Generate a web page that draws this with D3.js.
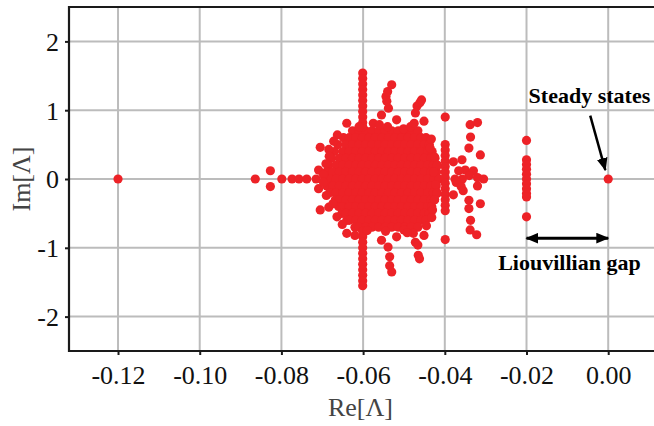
<!DOCTYPE html>
<html>
<head>
<meta charset="utf-8">
<script src="https://cdn.jsdelivr.net/npm/d3@7"></script>
<style>
  html, body { margin: 0; padding: 0; background: #fff; }
  svg { display: block; }
  .tick-label { font-family: "Liberation Serif", "Times New Roman", serif; font-size: 26px; fill: #111; }
  .axis-title { font-family: "Liberation Serif", "Times New Roman", serif; font-size: 26px; fill: #444; }
  .note { font-family: "Liberation Serif", "Times New Roman", serif; font-size: 22px; font-weight: bold; fill: #000; }
</style>
</head>
<body>
<svg id="chart" width="654" height="426"></svg>
<script>
// Liouvillian spectrum: eigenvalues Λ in the complex plane.

const xTicks = [-0.12, -0.10, -0.08, -0.06, -0.04, -0.02, 0.00];
const yTicks = [-2, -1, 0, 1, 2];

// isolated slow modes
const steadyStates = [[0.0, 0.0]];
const farMode = [[-0.12, 0.0]];

// first excited band at Re Λ ≈ -0.02 (sets the Liouvillian gap)
const gapBandRe = -0.0200;
const gapBandIm = [0.56, 0.28, 0.21, 0.14, 0.07, 0.00, -0.07, -0.14, -0.21, -0.26, -0.55];

// vertical branch through the bulk at Re Λ ≈ -0.06
const spikeRe = -0.0601;
const spikeIm = [1.54, 1.46, 1.38, 1.30, 1.22, 1.14, 1.06, 0.98, 0.90, 0.82, 0.76,
                 -0.76, -0.84, -0.92, -1.00, -1.08, -1.16, -1.24, -1.32, -1.40, -1.48, -1.55];

// band at Re Λ ≈ -0.04
const band04Re = -0.0399;
const band04Im = [0.90, 0.50, 0.42, 0.34, 0.26, 0.18, 0.10, 0.02, -0.06, -0.14, -0.22, -0.30, -0.38, -0.46, -0.88];

// dense bulk of the spectrum, row by row in Im Λ
const bulkIm = [0.70, 0.60, 0.50, 0.40, 0.30, 0.20, 0.10, 0.00, -0.10, -0.20, -0.30, -0.40, -0.50, -0.60, -0.70];
const bulkRe = [
  [-0.0626,-0.0610,-0.0594,-0.0578,-0.0562,-0.0546,-0.0530,-0.0514,-0.0498,-0.0482,-0.0466],
  [-0.0648,-0.0634,-0.0618,-0.0602,-0.0586,-0.0570,-0.0554,-0.0538,-0.0522,-0.0506,-0.0490,-0.0474,-0.0458,-0.0446],
  [-0.0662,-0.0642,-0.0626,-0.0610,-0.0594,-0.0578,-0.0562,-0.0546,-0.0530,-0.0514,-0.0498,-0.0482,-0.0466,-0.0450,-0.0438],
  [-0.0670,-0.0650,-0.0634,-0.0618,-0.0602,-0.0586,-0.0570,-0.0554,-0.0538,-0.0522,-0.0506,-0.0490,-0.0474,-0.0458,-0.0442,-0.0431],
  [-0.0677,-0.0658,-0.0642,-0.0626,-0.0610,-0.0594,-0.0578,-0.0562,-0.0546,-0.0530,-0.0514,-0.0498,-0.0482,-0.0466,-0.0450,-0.0434,-0.0424],
  [-0.0684,-0.0666,-0.0650,-0.0634,-0.0618,-0.0602,-0.0586,-0.0570,-0.0554,-0.0538,-0.0522,-0.0506,-0.0490,-0.0474,-0.0458,-0.0442,-0.0428,-0.0418],
  [-0.0690,-0.0674,-0.0658,-0.0642,-0.0626,-0.0610,-0.0594,-0.0578,-0.0562,-0.0546,-0.0530,-0.0514,-0.0498,-0.0482,-0.0466,-0.0450,-0.0434,-0.0420],
  [-0.0694,-0.0680,-0.0666,-0.0650,-0.0634,-0.0618,-0.0602,-0.0586,-0.0570,-0.0554,-0.0538,-0.0522,-0.0506,-0.0490,-0.0474,-0.0458,-0.0442,-0.0426,-0.0414],
  [-0.0689,-0.0674,-0.0658,-0.0642,-0.0626,-0.0610,-0.0594,-0.0578,-0.0562,-0.0546,-0.0530,-0.0514,-0.0498,-0.0482,-0.0466,-0.0450,-0.0434,-0.0421],
  [-0.0682,-0.0666,-0.0650,-0.0634,-0.0618,-0.0602,-0.0586,-0.0570,-0.0554,-0.0538,-0.0522,-0.0506,-0.0490,-0.0474,-0.0458,-0.0442,-0.0428,-0.0419],
  [-0.0668,-0.0658,-0.0642,-0.0626,-0.0610,-0.0594,-0.0578,-0.0562,-0.0546,-0.0530,-0.0514,-0.0498,-0.0482,-0.0466,-0.0450,-0.0434,-0.0425],
  [-0.0660,-0.0650,-0.0634,-0.0618,-0.0602,-0.0586,-0.0570,-0.0554,-0.0538,-0.0522,-0.0506,-0.0490,-0.0474,-0.0458,-0.0442,-0.0432],
  [-0.0652,-0.0642,-0.0626,-0.0610,-0.0594,-0.0578,-0.0562,-0.0546,-0.0530,-0.0514,-0.0498,-0.0482,-0.0466,-0.0450,-0.0439],
  [-0.0640,-0.0634,-0.0618,-0.0602,-0.0586,-0.0570,-0.0554,-0.0538,-0.0522,-0.0506,-0.0490,-0.0474,-0.0458,-0.0447],
  [-0.0620,-0.0610,-0.0594,-0.0578,-0.0562,-0.0546,-0.0530,-0.0514,-0.0498,-0.0482,-0.0466]
];

// scattered eigenvalues around the bulk
const outliers = [
  [-0.0864, 0.00], [-0.0827, 0.12], [-0.0827, -0.11], [-0.0799, 0.00], [-0.0774, 0.00],
  [-0.0757, 0.00], [-0.0738, 0.00], [-0.0715, 0.00], [-0.0709, 0.13], [-0.0709, -0.14],
  [-0.0705, 0.46], [-0.0684, 0.43], [-0.0705, -0.45], [-0.0684, -0.41],
  [-0.0640, 0.81], [-0.0575, 0.81], [-0.0560, 0.79], [-0.0518, 0.86], [-0.0501, 0.73],
  [-0.0484, 0.76], [-0.0475, 0.81], [-0.0451, 0.84],
  [-0.0555, 0.93], [-0.0538, 1.03], [-0.0542, 1.13], [-0.0544, 1.20], [-0.0540, 1.27], [-0.0530, 1.37],
  [-0.0472, 0.96], [-0.0468, 1.06], [-0.0461, 1.11], [-0.0457, 1.15],
  [-0.0640, -0.79], [-0.0620, -0.82], [-0.0555, -0.89], [-0.0539, -0.99], [-0.0535, -1.13],
  [-0.0535, -1.26], [-0.0530, -1.35], [-0.0518, -0.84], [-0.0500, -0.74], [-0.0477, -0.79],
  [-0.0472, -0.92], [-0.0466, -0.96], [-0.0465, -1.11], [-0.0462, -1.16], [-0.0451, -0.82],
  [-0.0436, 0.45], [-0.0425, 0.32], [-0.0419, 0.20], [-0.0419, -0.21], [-0.0425, -0.30], [-0.0430, -0.45],
  [-0.0663, 0.64], [-0.0672, 0.55], [-0.0683, 0.33], [-0.0691, 0.22], [-0.0697, 0.06],
  [-0.0697, -0.05], [-0.0690, -0.24], [-0.0674, -0.36], [-0.0664, -0.55], [-0.0651, -0.66],
  [-0.0610, 0.76], [-0.0540, 0.76], [-0.0590, -0.75], [-0.0545, -0.76], [-0.0492, -0.78],
  [-0.0433, 0.58], [-0.0427, 0.10], [-0.0422, -0.08], [-0.0432, -0.56], [-0.0445, -0.68],
  [-0.0338, 0.79], [-0.0320, 0.82], [-0.0337, 0.61], [-0.0341, 0.45], [-0.0313, 0.35],
  [-0.0358, 0.28], [-0.0379, 0.25], [-0.0350, 0.13], [-0.0366, 0.12], [-0.0330, 0.12],
  [-0.0305, 0.00], [-0.0320, 0.02], [-0.0340, 0.05], [-0.0357, 0.00], [-0.0375, 0.00],
  [-0.0372, -0.05], [-0.0360, -0.11], [-0.0320, -0.10], [-0.0355, -0.17], [-0.0379, -0.23],
  [-0.0341, -0.31], [-0.0313, -0.36], [-0.0341, -0.43], [-0.0337, -0.60], [-0.0338, -0.74],
  [-0.0322, -0.81]
];

const W = 654, H = 426;
const x = d3.scaleLinear().domain([-0.132, 0.0117]).range([69, 656]);
const y = d3.scaleLinear().domain([-2.5, 2.5]).range([351, 7]);

const svg = d3.select("#chart");
const red = "#ED2227";
const ink = "#1a1a1a";
const gridColor = "#bcbcbc";

// gridlines
const grid = svg.append("g");
grid.selectAll("line.gx").data(xTicks).join("line")
  .attr("x1", d => x(d)).attr("x2", d => x(d))
  .attr("y1", y.range()[0]).attr("y2", y.range()[1])
  .attr("stroke", gridColor).attr("stroke-width", 2);
grid.selectAll("line.gy").data(yTicks).join("line")
  .attr("x1", x.range()[0]).attr("x2", x.range()[1])
  .attr("y1", d => y(d)).attr("y2", d => y(d))
  .attr("stroke", gridColor).attr("stroke-width", 2);

// assemble every eigenvalue as [Re, Im]
const points = [];
farMode.forEach(p => points.push(p));
bulkIm.forEach((im, i) => bulkRe[i].forEach(re => points.push([re, im])));
spikeIm.forEach(im => points.push([spikeRe, im]));
band04Im.forEach(im => points.push([band04Re, im]));
outliers.forEach(p => points.push(p));
gapBandIm.forEach(im => points.push([gapBandRe, im]));
steadyStates.forEach(p => points.push(p));

svg.append("g").selectAll("circle").data(points).join("circle")
  .attr("cx", d => x(d[0])).attr("cy", d => y(d[1]))
  .attr("r", 4.6).attr("fill", red);

// axes
const xAxis = d3.axisBottom(x).tickValues(xTicks).tickSize(4).tickFormat(d => d.toFixed(2));
const yAxis = d3.axisLeft(y).tickValues(yTicks).tickSize(4).tickFormat(d => String(d));

const gx = svg.append("g").attr("transform", `translate(0,${y.range()[0]})`).call(xAxis);
gx.select(".domain").remove();
gx.selectAll(".tick line").attr("stroke", ink).attr("stroke-width", 2);
gx.selectAll(".tick text").attr("class", "tick-label").attr("dy", null).attr("y", 33);

const gy = svg.append("g").attr("transform", `translate(${x.range()[0]},0)`).call(yAxis);
gy.select(".domain").remove();
gy.selectAll(".tick line").attr("stroke", ink).attr("stroke-width", 2);
gy.selectAll(".tick text").attr("class", "tick-label").attr("x", -10).attr("dy", "0.34em");

// frame: left, bottom, top
const frame = svg.append("g").attr("stroke", ink).attr("stroke-width", 2.2).attr("fill", "none");
frame.append("line").attr("x1", x.range()[0]).attr("x2", x.range()[0]).attr("y1", y.range()[0] + 1).attr("y2", y.range()[1] - 1);
frame.append("line").attr("x1", x.range()[0] - 1).attr("x2", W).attr("y1", y.range()[0]).attr("y2", y.range()[0]);
frame.append("line").attr("x1", x.range()[0] - 1).attr("x2", W).attr("y1", y.range()[1]).attr("y2", y.range()[1]);

// axis titles
svg.append("text").attr("class", "axis-title")
  .attr("x", (x(-0.132) + x(0.0117)) / 2 - 2).attr("y", 416)
  .attr("text-anchor", "middle").text("Re[Λ]");
svg.append("text").attr("class", "axis-title")
  .attr("transform", `translate(30,${y(0)}) rotate(-90)`)
  .attr("text-anchor", "middle").text("Im[Λ]");

// annotations
const defs = svg.append("defs");
defs.append("marker").attr("id", "head").attr("viewBox", "0 0 12 10")
  .attr("refX", 11).attr("refY", 5).attr("markerUnits", "userSpaceOnUse")
  .attr("markerWidth", 13).attr("markerHeight", 11).attr("orient", "auto-start-reverse")
  .append("path").attr("d", "M0,0 L12,5 L0,10 Z").attr("fill", "#000");

svg.append("text").attr("class", "note")
  .attr("x", x(-0.0046)).attr("y", y(1.10))
  .attr("text-anchor", "middle").text("Steady states");
svg.append("line")
  .attr("x1", x(-0.0044)).attr("y1", y(0.92))
  .attr("x2", x(-0.0007)).attr("y2", y(0.13))
  .attr("stroke", "#000").attr("stroke-width", 2.5)
  .attr("marker-end", "url(#head)");

svg.append("line")
  .attr("x1", x(gapBandRe)).attr("y1", y(-0.86))
  .attr("x2", x(steadyStates[0][0])).attr("y2", y(-0.86))
  .attr("stroke", "#000").attr("stroke-width", 3)
  .attr("marker-start", "url(#head)").attr("marker-end", "url(#head)");
svg.append("text").attr("class", "note")
  .attr("x", x(-0.0095)).attr("y", y(-1.32))
  .attr("text-anchor", "middle").text("Liouvillian gap");
</script>
</body>
</html>
